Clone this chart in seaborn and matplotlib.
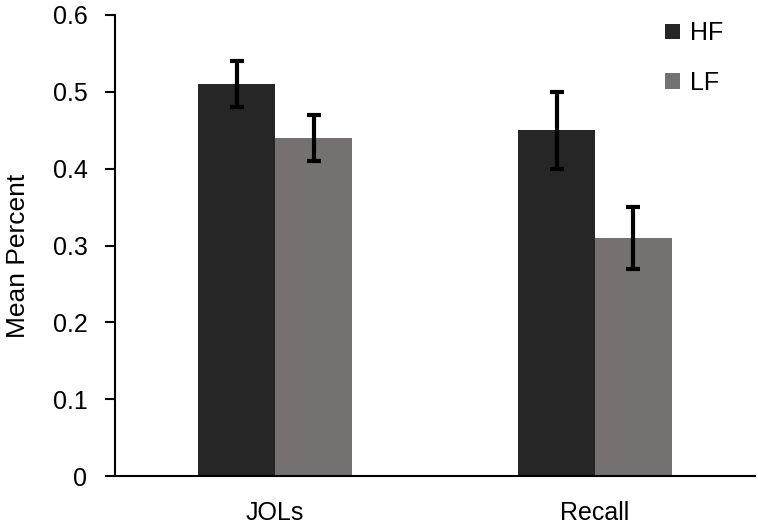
import matplotlib
matplotlib.use("Agg")
import matplotlib.pyplot as plt
import seaborn as sns
import pandas as pd
import numpy as np

categories = ["JOLs", "Recall"]
series = ["HF", "LF"]
hf_values = [0.51, 0.45]
lf_values = [0.44, 0.31]
hf_err = [0.03, 0.05]
lf_err = [0.03, 0.04]
colors = {"HF": "#262626", "LF": "#767171"}

sns.set_theme(style="white")
plt.rcParams['font.family'] = ['Liberation Sans', 'DejaVu Sans']
plt.rcParams['text.color'] = 'black'
plt.rcParams['axes.labelcolor'] = 'black'
plt.rcParams['xtick.color'] = 'black'
plt.rcParams['ytick.color'] = 'black'

df = pd.DataFrame({
    "cat": categories * 2,
    "series": ["HF"] * 2 + ["LF"] * 2,
    "value": hf_values + lf_values,
    "err": hf_err + lf_err,
})

fig = plt.figure(figsize=(7.58, 5.32), dpi=100)
ax = fig.add_axes([0.152, 0.105, 0.844, 0.867])
sns.barplot(data=df, x="cat", y="value", hue="series", order=categories,
            hue_order=series, palette=colors, width=0.48, saturation=1,
            errorbar=None, ax=ax, linewidth=0)

errs = {"HF": hf_err, "LF": lf_err}
vals = {"HF": hf_values, "LF": lf_values}
for cont, s in zip(ax.containers, series):
    xs = [p.get_x() + p.get_width() / 2 for p in cont.patches]
    ax.errorbar(xs, vals[s], yerr=errs[s], fmt="none", ecolor="black",
                elinewidth=3, capsize=5, capthick=3)

ax.set_xlim(-0.5, 1.5)
ax.set_ylim(0, 0.6)
ax.set_yticks([0, 0.1, 0.2, 0.3, 0.4, 0.5, 0.6])
ax.set_yticklabels(["0", "0.1", "0.2", "0.3", "0.4", "0.5", "0.6"], fontsize=18)
ax.set_xticks([0, 1])
ax.set_xticklabels(categories, fontsize=18)
ax.set_xlabel("")
ax.set_ylabel("Mean Percent", fontsize=19, va="center")
ax.yaxis.set_label_coords(-0.152, 0.477)
ax.tick_params(axis="y", which="major", direction="out", length=7, width=1.5, color="black", pad=13, left=True)
ax.tick_params(axis="x", length=0, pad=18)
sns.despine(ax=ax)
for sp in ["left", "bottom"]:
    ax.spines[sp].set_color("black")
    ax.spines[sp].set_linewidth(1.5)

handles, labels = ax.get_legend_handles_labels()
ax.legend(handles, labels, loc="upper right", bbox_to_anchor=(0.985, 1.035), frameon=False,
          fontsize=18, handlelength=0.6, handleheight=0.6, handletextpad=0.4,
          labelspacing=1.02)

fig.savefig("out.png", dpi=100)
